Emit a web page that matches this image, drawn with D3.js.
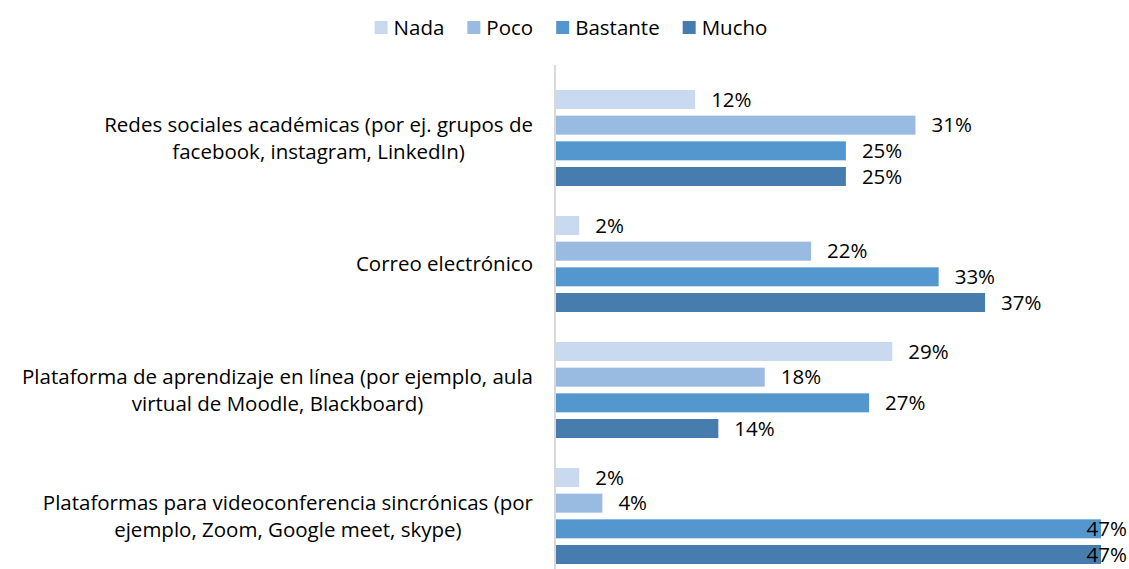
<!DOCTYPE html>
<html>
<head>
<meta charset="utf-8">
<script src="https://cdn.jsdelivr.net/npm/d3@7"></script>
<style>
  body { margin: 0; background: #fff; }
  svg text { font-family: "Open Sans", Lato, sans-serif; fill: #000; }
</style>
</head>
<body>
<svg id="main"></svg>
<script>
// data
var categories = [
  ["Redes sociales académicas (por ej. grupos de", "facebook, instagram, LinkedIn)"],
  ["Correo electrónico"],
  ["Plataforma de aprendizaje en línea (por ejemplo, aula", "virtual de Moodle, Blackboard)"],
  ["Plataformas para videoconferencia sincrónicas (por", "ejemplo, Zoom, Google meet, skype)"]
];
var seriesNames = ["Nada", "Poco", "Bastante", "Mucho"];
var nada     = [12, 2, 29, 2];
var poco     = [31, 22, 18, 4];
var bastante = [25, 33, 27, 47];
var mucho    = [25, 37, 14, 47];
var colors = ["#C9D9EF", "#9ABBE1", "#5497CE", "#477DAE"];

var W = 1129, H = 569;
var fontSize = 20.5;

var s = d3.select("#main").attr("width", W).attr("height", H);

var values = [nada, poco, bastante, mucho];
var idx = d3.range(categories.length);

var x = d3.scaleLinear().domain([0, 47]).range([556, 1101]);
var y0 = d3.scaleBand().domain(idx).range([75, 579]).paddingInner(0).paddingOuter(0);
var y1 = d3.scaleBand().domain(d3.range(seriesNames.length))
  .range([15, y0.bandwidth() - 15]).paddingInner(0.26).paddingOuter(0);

// axis line
s.append("line")
  .attr("x1", 555).attr("x2", 555)
  .attr("y1", 65).attr("y2", H)
  .attr("stroke", "#D9D9D9").attr("stroke-width", 2);

var groups = s.append("g").selectAll("g")
  .data(idx).enter().append("g")
  .attr("transform", function(i) { return "translate(0," + y0(i) + ")"; });

groups.selectAll("rect")
  .data(function(i) { return values.map(function(v, k) { return {k: k, v: v[i]}; }); })
  .enter().append("rect")
  .attr("x", x(0))
  .attr("y", function(d) { return y1(d.k); })
  .attr("width", function(d) { return x(d.v) - x(0); })
  .attr("height", y1.bandwidth())
  .attr("fill", function(d) { return colors[d.k]; });

groups.selectAll("text.val")
  .data(function(i) { return values.map(function(v, k) { return {k: k, v: v[i]}; }); })
  .enter().append("text")
  .attr("class", "val")
  .attr("font-size", fontSize)
  .attr("y", function(d) { return y1(d.k) + y1.bandwidth() / 2; })
  .attr("dy", "0.35em")
  .text(function(d) { return d.v + "%"; })
  .attr("x", function(d) {
    var w = this.getComputedTextLength();
    return Math.min(x(d.v) + 16, W - 2 - w);
  });

// category labels: block right-aligned, lines centred inside it
var lineH = 27;
var catG = s.append("g");
idx.forEach(function(i) {
  var lines = categories[i];
  var cy = y0(i) + y0.bandwidth() / 2;
  var t = catG.selectAll(null).data(lines).enter().append("text")
    .attr("font-size", fontSize)
    .attr("text-anchor", "middle")
    .attr("dy", "0.35em")
    .attr("y", function(d, j) { return cy + (j - (lines.length - 1) / 2) * lineH; })
    .text(function(d) { return d; });
  var maxW = d3.max(t.nodes(), function(n) { return n.getComputedTextLength(); });
  t.attr("x", 533 - maxW / 2);
});

// legend
var leg = s.append("g");
var cx = 0;
seriesNames.forEach(function(n, k) {
  leg.append("rect").attr("x", cx).attr("y", -7).attr("width", 13).attr("height", 13)
    .attr("fill", colors[k]);
  var t = leg.append("text").attr("x", cx + 19).attr("y", 0).attr("dy", "0.35em")
    .attr("font-size", fontSize).text(n);
  cx += 19 + t.node().getComputedTextLength() + 23;
});
cx -= 23;
leg.attr("transform", "translate(" + (571 - cx / 2) + ",28)");
</script>
</body>
</html>
